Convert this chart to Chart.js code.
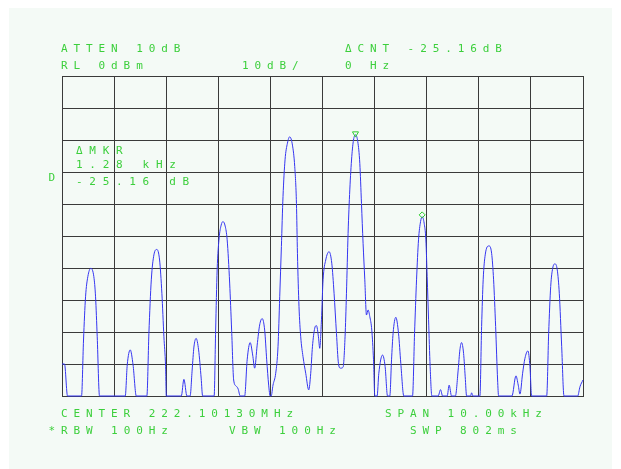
<!DOCTYPE html>
<html>
<head>
<meta charset="utf-8">
<script src="https://cdn.jsdelivr.net/npm/chart.js@4/dist/chart.umd.min.js"></script>
<style>
  html, body { margin: 0; padding: 0; background: #ffffff; }
  #wrap { position: relative; width: 621px; height: 469px; overflow: hidden; }
  #panel { position: absolute; left: 9px; top: 8px; width: 603px; height: 461px; background: #f4faf6; }
  canvas { position: absolute; left: 0; top: 0; }
  .t { position: absolute; font-family: "DejaVu Sans Mono", monospace; font-size: 11px; line-height: 11px;
       color: #3ccf3c; letter-spacing: 5.9px; white-space: pre; }
  .m { letter-spacing: 6.7px; }
</style>
</head>
<body>
<div id="wrap">
  <div id="panel"></div>
  <canvas id="c" width="621" height="469"></canvas>
  <div class="t" style="left:61px; top:42.5px;">ATTEN 10dB</div>
  <div class="t" style="left:345px; top:42.5px;">ΔCNT -25.16dB</div>
  <div class="t" style="left:61px; top:59.5px;">RL 0dBm</div>
  <div class="t" style="left:242px; top:59.5px;">10dB/</div>
  <div class="t" style="left:345px; top:59.5px;">0 Hz</div>
  <div class="t m" style="left:76px; top:144.5px;">ΔMKR</div>
  <div class="t m" style="left:76px; top:159px;">1.28 kHz</div>
  <div class="t m" style="left:76px; top:175.5px;">-25.16 dB</div>
  <div class="t" style="left:48.5px; top:171.5px;">D</div>
  <div class="t" style="left:61px; top:407.5px;">CENTER 222.10130MHz</div>
  <div class="t" style="left:385px; top:407.5px;">SPAN 10.00kHz</div>
  <div class="t" style="left:48.5px; top:425px;">*RBW 100Hz</div>
  <div class="t" style="left:229px; top:425px;">VBW 100Hz</div>
  <div class="t" style="left:410px; top:425px;">SWP 802ms</div>
</div>
<script>
// Frequency offset from center 222.10130 MHz (kHz), span 10 kHz
const freqs = [
  -5.000, -4.952, -4.894,
  -4.625, -4.587, -4.548, -4.504, -4.447, -4.389, -4.356, -4.324, -4.280,
  -3.786, -3.748, -3.690, -3.636, -3.574,
  -3.371, -3.332, -3.286, -3.236, -3.179, -3.127, -3.083, -3.044, -3.012, -2.998,
  -2.710, -2.660, -2.602,
  -2.541, -2.502, -2.468, -2.426, -2.378, -2.329, -2.301,
  -2.080, -2.051, -2.022, -1.984, -1.945, -1.911, -1.868, -1.830, -1.782, -1.744, -1.705, -1.657, -1.619, -1.580,
  -1.494, -1.446, -1.388, -1.340, -1.302, -1.254, -1.206, -1.158, -1.110, -1.071, -1.033, -1.004,
  -0.985, -0.950, -0.898, -0.854, -0.821, -0.789, -0.758, -0.719, -0.673, -0.629, -0.577, -0.533, -0.500,
  -0.481, -0.451, -0.418, -0.374, -0.322, -0.264, -0.226, -0.193, -0.149, -0.116, -0.078, -0.053,
  -0.020, 0.011, 0.062, 0.126, 0.178, 0.222, 0.268, 0.306, 0.345, 0.395,
  0.433, 0.460, 0.491, 0.524, 0.562, 0.595, 0.633, 0.677, 0.716, 0.748, 0.779, 0.812, 0.844, 0.875, 0.908, 0.946, 0.979, 1.004,
  1.048, 1.081, 1.152, 1.202, 1.248,
  1.292, 1.325, 1.355, 1.407, 1.459, 1.503, 1.561,
  1.728, 1.767, 1.805, 1.843, 1.882, 1.913, 1.951, 1.984, 2.009, 2.036, 2.066, 2.099,
  2.220, 2.266, 2.305, 2.393, 2.431, 2.477,
  2.550, 2.604, 2.637, 2.669, 2.708, 2.739, 2.766,
  2.842, 2.862, 2.887,
  3.021, 3.054, 3.084, 3.123, 3.194, 3.246, 3.284, 3.323, 3.361, 3.380,
  3.636, 3.713, 3.757, 3.790, 3.841, 3.886, 3.943, 3.982, 4.014,
  4.303, 4.341, 4.380, 4.418, 4.462, 4.506, 4.545, 4.591, 4.635,
  4.898, 4.942, 5.000
];
// Trace level (dBm), reference level 0 dBm, 10 dB/div
const levels = [
  -90.0, -90.0, -100,
  -100, -82.5, -69.0, -62.7, -60.1, -62.7, -69.0, -81.5, -100,
  -100, -90.3, -85.6, -90.3, -100,
  -100, -80.4, -63.7, -55.9, -54.2, -57.5, -67.9, -81.5, -90.8, -100,
  -100, -94.8, -100,
  -100, -91.9, -84.7, -82.0, -85.6, -94.4, -100,
  -100, -79.4, -60.6, -50.6, -46.6, -45.5, -46.9, -51.2, -64.7, -79.4, -95.0, -96.9, -97.8, -100,
  -100, -88.7, -83.3, -87.2, -91.3, -84.1, -77.8, -75.8, -79.4, -88.7, -96.6, -100,
  -100, -96.6, -92.9, -84.6, -69.0, -53.3, -37.7, -26.2, -21.0, -19.0, -21.6, -28.3, -39.8,
  -55.4, -72.1, -81.5, -87.7, -92.9, -98.1, -92.9, -84.6, -78.8, -78.0, -81.5, -85.1,
  -76.2, -63.7, -57.5, -54.9, -58.5, -67.9, -80.4, -89.8, -91.3, -91.0,
  -81.5, -67.9, -49.2, -35.6, -25.2, -20.0, -18.4, -20.5, -27.3, -39.8, -52.3, -63.7, -74.7, -73.1, -75.2, -79.4, -88.7, -100,
  -100, -92.9, -87.2, -90.8, -100,
  -100, -88.7, -80.4, -75.4, -80.4, -89.8, -100,
  -100, -80.4, -63.7, -51.2, -45.5, -44.0, -46.0, -51.2, -62.7, -76.2, -90.8, -100,
  -100, -98.0, -100, -100, -96.6, -100,
  -100, -91.9, -85.6, -83.3, -86.7, -94.0, -100,
  -100, -99.0, -100,
  -100, -78.3, -63.7, -55.9, -53.1, -55.4, -63.7, -78.3, -95.0, -100,
  -100, -93.7, -96.6, -99.4, -92.9, -88.2, -85.9, -90.8, -100,
  -100, -80.4, -65.8, -60.1, -58.7, -60.6, -67.9, -84.6, -100,
  -100, -97.1, -95.0
];
// Markers: reference marker (triangle) and delta marker (diamond)
const refMarkerFreq = [0.633];
const refMarkerLevel = [-18.0];
const deltaMarkerFreq = [1.913];
const deltaMarkerLevel = [-43.4];

const xTicks = { min: -5, max: 5, step: 1 };
const yTicks = { min: -100, max: 0, step: 10 };

const toPts = (xs, ys) => xs.map((x, i) => ({ x: x, y: ys[i] }));

const gridColor = '#3a3a3a';
new Chart(document.getElementById('c'), {
  type: 'scatter',
  data: {
    datasets: [
      {
        data: toPts(freqs, levels),
        showLine: true,
        borderColor: '#3535f0',
        borderWidth: 1,
        pointRadius: 0,
        cubicInterpolationMode: 'monotone',
        clip: 3,
        order: 2
      },
      {
        data: toPts(refMarkerFreq, refMarkerLevel),
        showLine: false,
        pointStyle: 'triangle',
        rotation: 180,
        radius: 3.5,
        borderColor: '#2fcf2f',
        backgroundColor: 'rgba(0,0,0,0)',
        borderWidth: 1,
        clip: false,
        order: 1
      },
      {
        data: toPts(deltaMarkerFreq, deltaMarkerLevel),
        showLine: false,
        pointStyle: 'rectRot',
        radius: 3,
        borderColor: '#2fcf2f',
        backgroundColor: 'rgba(0,0,0,0)',
        borderWidth: 1,
        clip: false,
        order: 1
      }
    ]
  },
  options: {
    responsive: false,
    animation: false,
    layout: { padding: { left: 62, right: 38, top: 76, bottom: 73 } },
    plugins: { legend: { display: false }, tooltip: { enabled: false } },
    scales: {
      x: {
        type: 'linear', min: xTicks.min, max: xTicks.max,
        ticks: { display: false, stepSize: xTicks.step },
        grid: { color: gridColor, lineWidth: 1, drawTicks: false },
        border: { display: true, color: gridColor, width: 1 }
      },
      y: {
        type: 'linear', min: yTicks.min, max: yTicks.max,
        ticks: { display: false, stepSize: yTicks.step },
        grid: { color: gridColor, lineWidth: 1, drawTicks: false },
        border: { display: true, color: gridColor, width: 1 }
      }
    }
  }
});
</script>
</body>
</html>
